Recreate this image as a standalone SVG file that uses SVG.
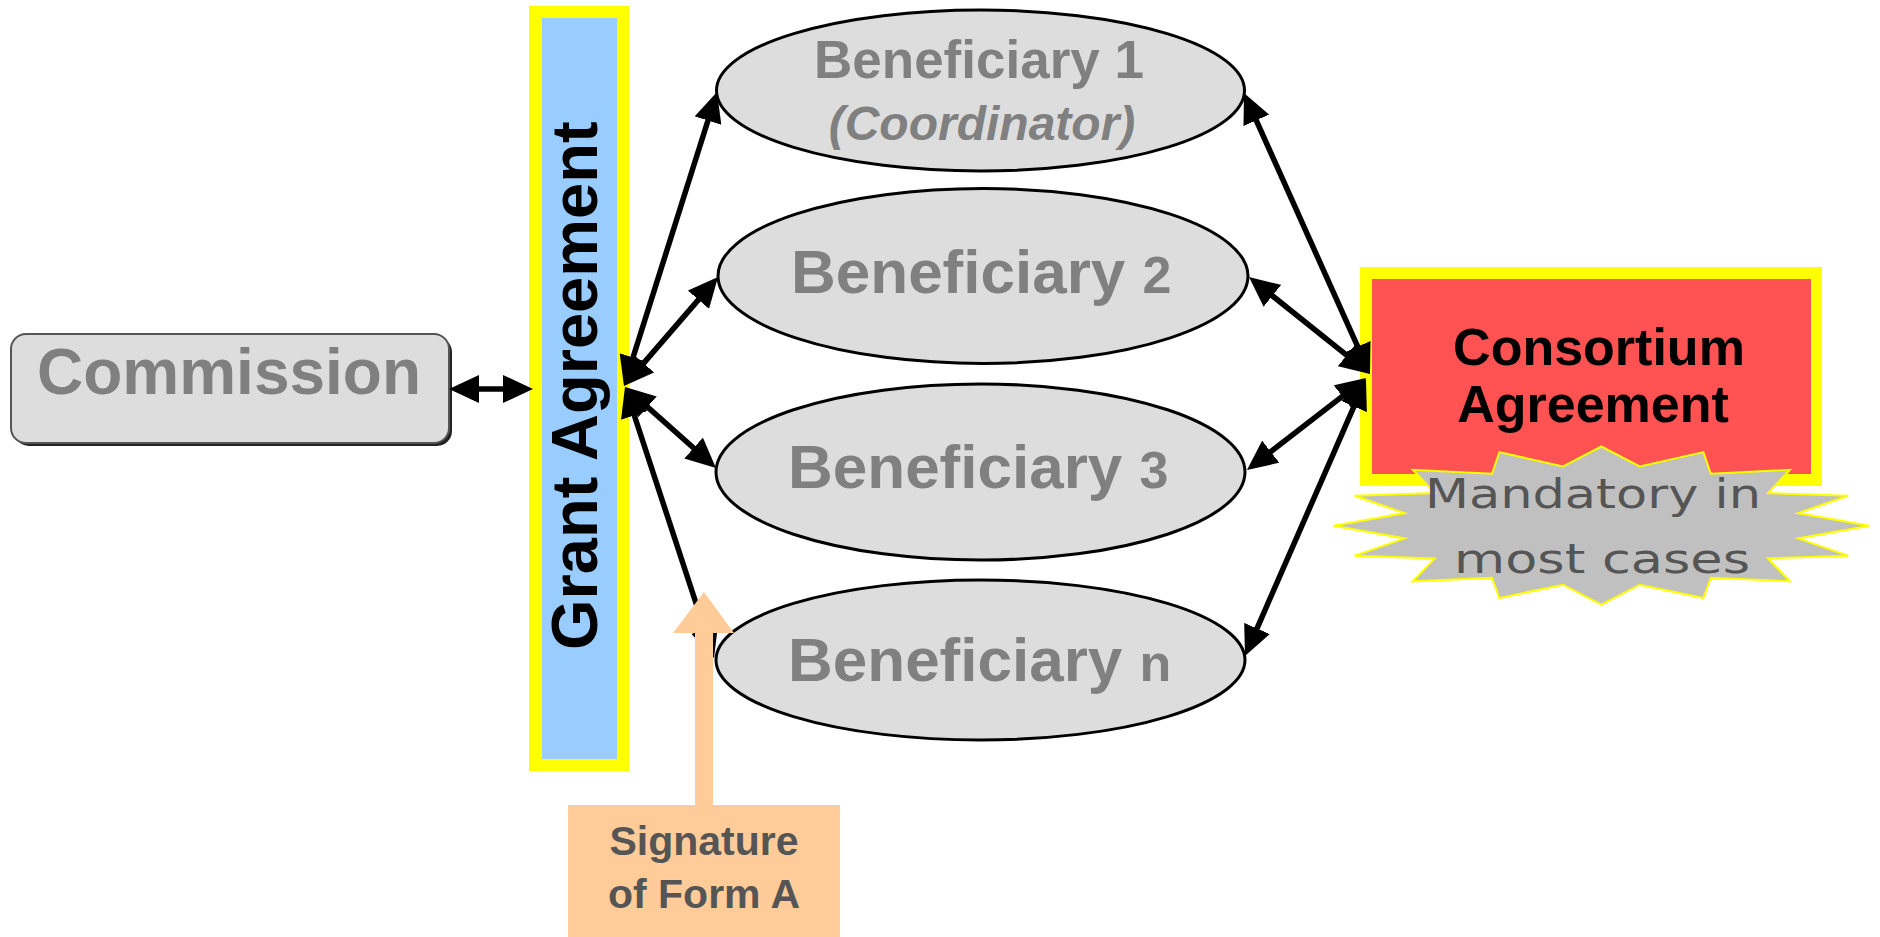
<svg xmlns="http://www.w3.org/2000/svg" width="1880" height="937" viewBox="0 0 1880 937">
  <style>
    text { font-family: "Liberation Sans", Arial, sans-serif; }
    .bold { font-weight: bold; }
    .grey { fill: #808080; }
    .ellipse { fill: #dddddd; stroke: #000000; stroke-width: 3; }
    .conn { fill: none; stroke: #000000; stroke-width: 5.5; marker-start: url(#head); marker-end: url(#head); }
    .note { font-family: "DejaVu Sans", sans-serif; font-size: 40px; fill: #555555; }
  </style>
  <defs>
    <marker id="head" viewBox="0 0 30 28" refX="20" refY="14" markerWidth="30" markerHeight="28" markerUnits="userSpaceOnUse" orient="auto-start-reverse">
      <path d="M0,0 L30,14 L0,28 z" fill="#000000"/>
    </marker>
  </defs>
  <rect width="1880" height="937" fill="#ffffff"/>

  <!-- Grant Agreement bar -->
  <g id="grant-agreement">
    <rect x="529" y="6" width="100" height="765" fill="#ffff00"/>
    <rect x="542" y="18" width="75" height="741" fill="#99ccff"/>
    <text class="bold" font-size="65" fill="#000000" transform="translate(597,650) rotate(-90)">Grant Agreement</text>
  </g>

  <!-- Consortium Agreement box -->
  <g id="consortium-agreement">
    <rect x="1360" y="267" width="462" height="219" fill="#ffff00"/>
    <rect x="1372" y="279" width="439" height="195" fill="#ff5252"/>
    <text class="bold" font-size="52" fill="#000000" text-anchor="middle" x="1599" y="365">Consortium</text>
    <text class="bold" font-size="52" fill="#000000" text-anchor="middle" x="1593" y="422">Agreement</text>
  </g>

  <!-- Commission -->
  <g id="commission">
    <rect x="14" y="337" width="438" height="109" rx="15" ry="15" fill="#222222"/>
    <rect x="11" y="334" width="438" height="109" rx="15" ry="15" fill="#dddddd" stroke="#555555" stroke-width="2"/>
    <text class="bold grey" font-size="64" text-anchor="middle" x="229" y="394">Commission</text>
  </g>

  <!-- Beneficiaries -->
  <g id="beneficiary-1">
    <ellipse class="ellipse" cx="980.5" cy="90.5" rx="264" ry="80.5"/>
    <text class="bold grey" font-size="53" text-anchor="middle" x="979" y="78">Beneficiary 1</text>
    <text class="bold grey" font-size="48" font-style="italic" text-anchor="middle" x="982" y="140">(Coordinator)</text>
  </g>
  <g id="beneficiary-2">
    <ellipse class="ellipse" cx="983" cy="276" rx="265" ry="87.5"/>
    <text class="bold grey" font-size="62" x="791" y="293">Beneficiary <tspan font-size="52">2</tspan></text>
  </g>
  <g id="beneficiary-3">
    <ellipse class="ellipse" cx="980.5" cy="472" rx="264.5" ry="88"/>
    <text class="bold grey" font-size="62" x="788" y="488">Beneficiary <tspan font-size="52">3</tspan></text>
  </g>
  <g id="beneficiary-n">
    <ellipse class="ellipse" cx="980.5" cy="660" rx="264.5" ry="80"/>
    <text class="bold grey" font-size="62" x="788" y="681">Beneficiary <tspan font-size="52">n</tspan></text>
  </g>

  <!-- Connectors -->
  <g id="connectors">
    <path class="conn" d="M459,389 L523,389"/>
    <path class="conn" d="M627,376.5 L714,101.5"/>
    <path class="conn" d="M630.5,378.4 L711.5,284.6"/>
    <path class="conn" d="M632.5,393.6 L708.5,461.3"/>
    <path class="conn" d="M628.1,396.5 L710.9,648.5"/>
    <path class="conn" d="M1248.1,102.1 L1365.9,364.9"/>
    <path class="conn" d="M1256.8,283.3 L1362.2,367.7"/>
    <path class="conn" d="M1254.9,463.9 L1358.1,384.1"/>
    <path class="conn" d="M1249,646.8 L1362,388.2"/>
  </g>

  <!-- Starburst note -->
  <g id="mandatory-note">
    <polygon fill="#c0c0c0" stroke="#ffff00" stroke-width="2" points="1601.4,446.5 1639.7,466.5 1703.4,452.1 1710.8,473.8 1790,469.8 1767.9,493.1 1848.2,495.8 1798.1,513.1 1869.2,525.7 1798.1,538.4 1848.2,555.7 1767.9,558.4 1790,581.3 1710.8,577.7 1703.4,598 1639.7,584.7 1601.4,604.6 1563.1,584.7 1499.4,598 1492,577.7 1412.8,581.3 1434.9,558.4 1354.6,555.7 1404.7,538.4 1333.6,525.7 1404.7,513.1 1354.6,495.8 1434.9,493.1 1412.8,469.8 1492,473.8 1499.4,452.1 1563.1,466.5"/>
    <text class="note" text-anchor="middle" x="1593" y="508" textLength="336" lengthAdjust="spacingAndGlyphs">Mandatory in</text>
    <text class="note" text-anchor="middle" x="1602" y="573" textLength="296" lengthAdjust="spacingAndGlyphs">most cases</text>
  </g>

  <!-- Signature callout -->
  <g id="signature-form-a">
    <polygon fill="#ffcc99" points="695,805 695,633 673,633 704,592 734,633 713,633 713,805"/>
    <rect x="568" y="805" width="272" height="132" fill="#ffcc99"/>
    <text class="bold" font-size="41" fill="#555555" text-anchor="middle" x="704" y="855">Signature</text>
    <text class="bold" font-size="41" fill="#555555" text-anchor="middle" x="704" y="908">of Form A</text>
  </g>
</svg>
